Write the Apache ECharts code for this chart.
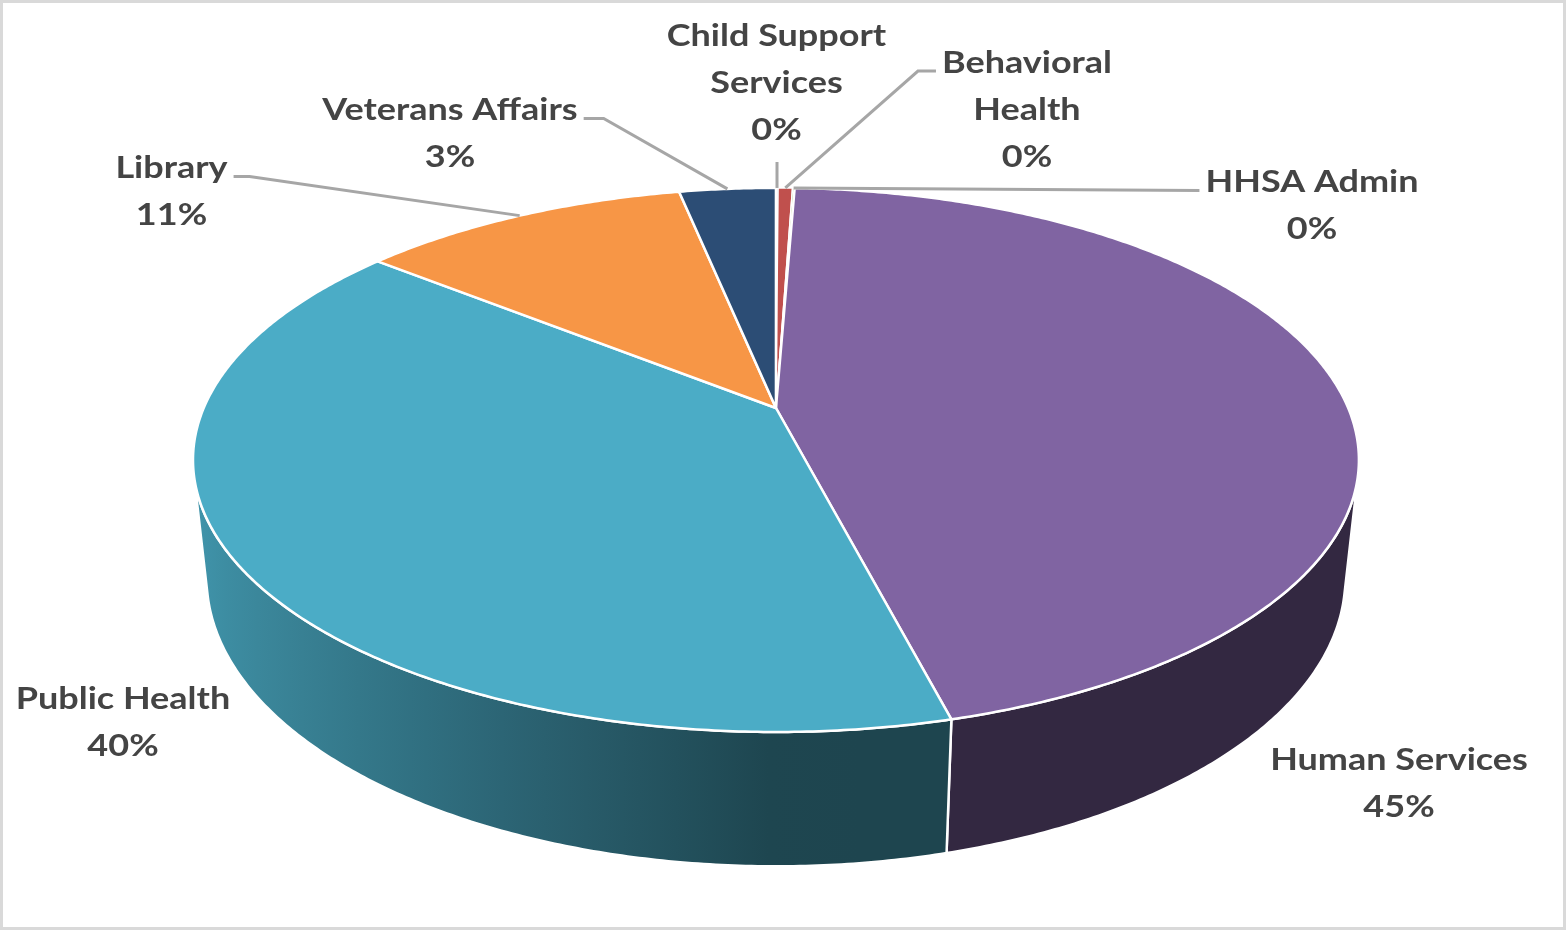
<!DOCTYPE html>
<html><head><meta charset="utf-8">
<script src="https://cdn.jsdelivr.net/npm/echarts@6/dist/echarts.min.js"></script>
<style>html,body{margin:0;padding:0;background:#fff}#chart{width:1566px;height:930px}</style>
</head><body><div id="chart"></div>
<script>
// ---------------- data ----------------
const categories = ['Child Support Services','Behavioral Health','HHSA Admin','Human Services','Public Health','Library','Veterans Affairs'];
const labelNames = ['Child Support\nServices','Behavioral\nHealth','HHSA Admin','Human Services','Public Health','Library','Veterans Affairs'];
const shares = [0.07, 0.48, 0.07, 45.36, 39.8, 11.0, 3.22];
const colors = ['#4F81BD','#C0504D','#9BBB59','#8064A2','#4BACC6','#F79646','#2C4D75'];

// ---------------- layout (not data) ----------------
const VIEW = { cx: 0.4955, cy: 0.4387, A: 0.3654, k: 0.191, sinA: 0.458, H: 0.2345 };
const LABEL_LAYOUT = [
  {x: 776.5, y: 81,  leader: 'below'},
  {x: 1027,  y: 108, leader: 'left',  elbow: 18},
  {x: 1312,  y: 204, leader: 'left',  elbow: 0},
  {x: 1399,  y: 782, leader: null},
  {x: 123,   y: 721, leader: null},
  {x: 171.5, y: 190, leader: 'right', elbow: 16},
  {x: 450,   y: 132, leader: 'right', elbow: 20}
];
const FONT = {size: 30, family: 'Lato', weight: 'bold', scaleX: 1.2, lineH: 47, color: '#444444'};

const total = shares.reduce((a,b)=>a+b,0);
const starts = [], ends = [];
(function(){ let acc = 0; shares.forEach(v => { starts.push(acc/total*2*Math.PI); acc += v; ends.push(acc/total*2*Math.PI); }); })();

function proj(theta, r, h, W, Hh) {
  const cx = VIEW.cx*W, cy = VIEW.cy*Hh, A = VIEW.A*W;
  const sinA = VIEW.sinA, cosA = Math.sqrt(1 - sinA*sinA), k = VIEW.k;
  const invD = k / cosA;
  const x3 = r*Math.sin(theta), z3 = -r*Math.cos(theta), y3 = h;
  const dn = 1 - y3*sinA*invD - z3*k;
  return [cx + A*x3/dn, cy - A*(y3*cosA - z3*sinA)/dn];
}
function shade(hex, f) {
  const n = parseInt(hex.slice(1), 16);
  const r = Math.round(((n>>16)&255)*f), g = Math.round(((n>>8)&255)*f), b = Math.round((n&255)*f);
  return 'rgb(' + r + ',' + g + ',' + b + ')';
}
function bright(theta) { return 0.4 + 0.48*Math.max(0, -Math.sin(theta)); }

const STEP = Math.PI/360;
function arc(a, b, r, h, W, Hh) {
  const pts = [];
  const n = Math.max(1, Math.ceil((b - a)/STEP));
  for (let j = 0; j <= n; j++) pts.push(proj(a + (b - a)*j/n, r, h, W, Hh));
  return pts;
}

function renderSlice(params, api) {
  const i = params.dataIndex;
  const W = api.getWidth(), Hh = api.getHeight();
  const a0 = starts[i], a1 = ends[i];
  const children = [];
  const cosA = Math.sqrt(1 - VIEW.sinA*VIEW.sinA);
  const th = Math.acos(-VIEW.k/(cosA*cosA));
  const lo = Math.max(a0, th), hi = Math.min(a1, 2*Math.PI - th);
  if (hi > lo) {
    const top = arc(lo, hi, 1, 0, W, Hh);
    const bot = arc(lo, hi, 1, -VIEW.H, W, Hh).reverse();
    const xs = top.map(p => p[0]);
    const xmin = Math.min.apply(null, xs), xmax = Math.max.apply(null, xs);
    const stops = [];
    const ns = 12;
    for (let j = 0; j <= ns; j++) {
      const t = lo + (hi - lo)*j/ns;
      const px = proj(t, 1, 0, W, Hh)[0];
      stops.push({offset: xmax > xmin ? (px - xmin)/(xmax - xmin) : 0, color: shade(colors[i], bright(t))});
    }
    stops.sort((p, q) => p.offset - q.offset);
    children.push({
      type: 'polygon',
      shape: {points: top.concat(bot)},
      style: {fill: {type: 'linear', x: xmin, y: 0, x2: xmax > xmin ? xmax : xmin + 1, y2: 0, global: true, colorStops: stops},
              stroke: '#fff', lineWidth: 2.5, lineJoin: 'round'}
    });
  }
  const c = proj(0, 0, 0, W, Hh);
  const lw = (a1 - a0) < 0.05 ? 1.5 : 2.5;
  children.push({
    type: 'polygon',
    shape: {points: [c].concat(arc(a0, a1, 1, 0, W, Hh))},
    style: {fill: colors[i], stroke: '#fff', lineWidth: lw, lineJoin: 'round'}
  });
  return {type: 'group', children: children};
}

const mctx = document.createElement('canvas').getContext('2d');
function measure(s) { mctx.font = FONT.weight + ' ' + FONT.size + 'px ' + FONT.family; return mctx.measureText(s).width*FONT.scaleX; }

function renderLabel(params, api) {
  const i = params.dataIndex;
  const W = api.getWidth(), Hh = api.getHeight();
  const L = LABEL_LAYOUT[i];
  const pct = Math.round(shares[i]/total*100) + '%';
  const text = labelNames[i] + '\n' + pct;
  const lines = text.split('\n');
  const n = lines.length;
  const firstY = L.y - (n - 1)*FONT.lineH/2;
  const children = [];
  if (L.leader) {
    const mid = (starts[i] + ends[i])/2;
    const e = proj(mid, 1, 0, W, Hh);
    let pts;
    if (L.leader === 'below') {
      const y0 = firstY + (n - 1)*FONT.lineH + 34;
      pts = [[e[0], y0], [e[0], e[1]]];
    } else {
      const hw = measure(lines[0])/2;
      const ay = firstY + 10;
      const sg = L.leader === 'left' ? -1 : 1;
      const sx = L.x + sg*(hw + 6);
      pts = [[sx, ay]];
      if (L.elbow) pts.push([sx + sg*L.elbow, ay]);
      pts.push(e);
    }
    children.push({type: 'polyline', shape: {points: pts}, style: {stroke: '#A6A6A6', lineWidth: 3, fill: null}});
  }
  children.push({
    type: 'text', x: L.x, y: L.y + 2, scaleX: FONT.scaleX,
    style: {text: text, fill: FONT.color, fontSize: FONT.size, fontFamily: FONT.family, fontWeight: FONT.weight,
            align: 'center', verticalAlign: 'middle', lineHeight: FONT.lineH}
  });
  return {type: 'group', children: children};
}

const seriesData = shares.map((v, i) => ({name: categories[i], value: v}));
const chart = echarts.init(document.getElementById('chart'), null, {renderer: 'canvas'});
chart.setOption({
  backgroundColor: '#fff',
  animation: false,
  graphic: [{type: 'rect', shape: {x: 1.5, y: 1.5, width: 1563, height: 927}, style: {fill: 'none', stroke: '#D9D9D9', lineWidth: 3}, silent: true}],
  series: [
    {type: 'custom', name: 'slices', coordinateSystem: 'none', renderItem: renderSlice, data: seriesData, z: 2},
    {type: 'custom', name: 'labels', coordinateSystem: 'none', renderItem: renderLabel, data: seriesData, z: 3, silent: true}
  ]
});
</script></body></html>
